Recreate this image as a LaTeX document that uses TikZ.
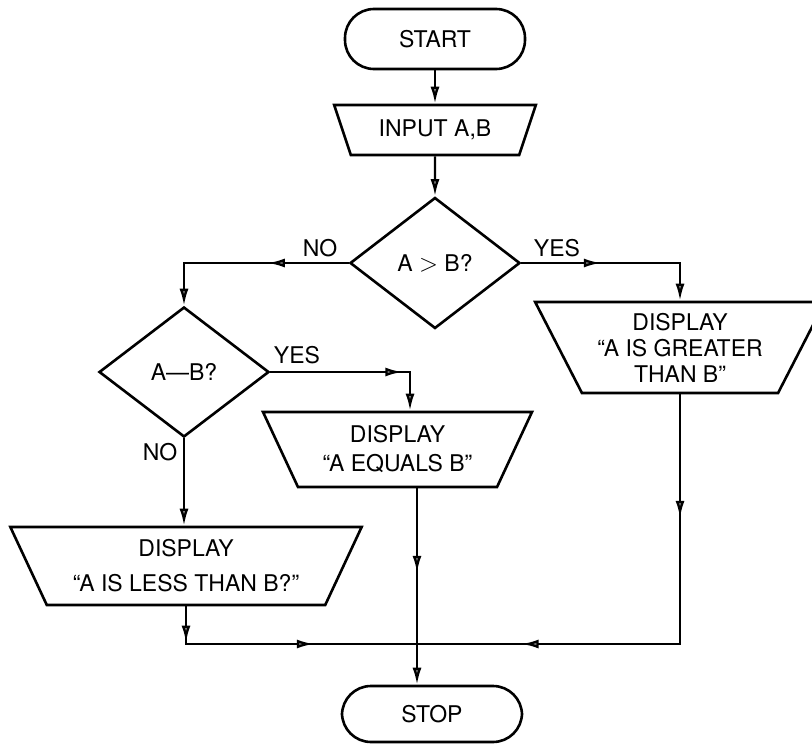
\documentclass[tikz,border=0pt]{standalone}
\usepackage{fontspec}
\setmainfont{TeX Gyre Heros}
\usetikzlibrary{arrows.meta,shapes.geometric,decorations.markings}
\tikzset{
  flowtip/.tip={Latex[length=17pt,width=9pt,fill=black!45]},
  term/.style={draw,line width=2.6pt,rounded corners=29pt,minimum width=180pt,minimum height=60pt},
  io/.style={draw,line width=2.6pt,trapezium,shape border rotate=180,trapezium stretches=true,inner sep=0pt,align=center},
  decide/.style={draw,line width=2.6pt,diamond,inner sep=0pt,minimum width=170pt,minimum height=131pt},
  flow/.style={line width=2.3pt,-flowtip},
  line/.style={line width=2.3pt},
  arrowat/.style={postaction={decorate,decoration={markings,mark=at position #1 with {\arrow{flowtip}}}}},
}
\begin{document}
\begin{tikzpicture}[x=1pt,y=-1pt,font=\fontsize{23pt}{26pt}\selectfont]
\path[use as bounding box,clip] (0,0) rectangle (812,744);
\node[term] (start) at (435,39) {START};
\node[io,minimum width=202pt,minimum height=50pt,trapezium angle=61] (input) at (435,130) {INPUT A,B};
\node[decide] (big) at (435,263) {A $>$ B?};
\node[decide,minimum height=130pt] (same) at (184,372) {A---B?};
\node[io,minimum width=290pt,minimum height=91pt,trapezium angle=60.3] (great) at (680,347.5) {DISPLAY\\``A IS GREATER\\THAN B''};
\node[io,minimum width=269pt,minimum height=75pt,trapezium angle=61] (equal) at (397.5,449.5) {DISPLAY\\[3pt]``A EQUALS B''};
\node[io,minimum width=352pt,minimum height=78pt,trapezium angle=60.6] (less) at (186,566) {DISPLAY\\[9pt]``A IS LESS THAN B?''};
\node[term,minimum height=56pt] (stop) at (432,714) {STOP};
\coordinate (eqin) at ([xshift=12.5pt]equal.north);
\coordinate (join) at (417,644); % where the three lines meet
\foreach \x/\y/\t [count=\i] in {320/248/NO, 557/248/YES, 297/355/YES, 160/452/NO} % edit here for the labels
\node (lbl\i) at (\x,\y) {\t};
\draw[flow] (start) -- (input);
\draw[flow] (input) -- (big);
\draw[flow,arrowat=0.39] (big.west) -- (big.west -| same.north) -- (same.north);
\draw[flow,arrowat=0.405] (big.east) -- (big.east -| great.north) -- (great.north);
\draw[flow,arrowat=0.74] (same.east) -- (same.east -| eqin) -- (eqin);
\draw[flow] (same.south) -- (same.south |- less.north);
\draw[line,arrowat=0.135,arrowat=0.616] (less.south) -- (less.south |- join) -- (join);
\draw[line,arrowat=0.241,arrowat=0.796] (great.south) -- (great.south |- join) -- (join);
\draw[flow,arrowat=0.43] (join |- equal.south) -- (join |- stop.north);
\end{tikzpicture}
\end{document}
